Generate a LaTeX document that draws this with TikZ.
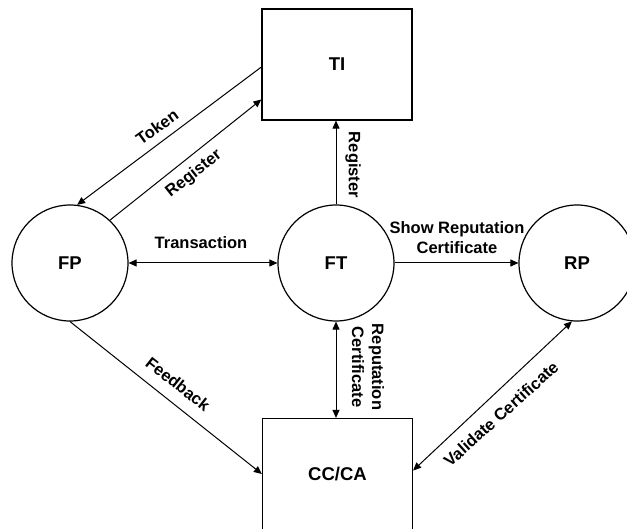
\documentclass[tikz,border=0pt]{standalone}
\usepackage{fontspec}
\setmainfont{Liberation Sans}
\usetikzlibrary{arrows.meta}
\begin{document}
\begin{tikzpicture}[x=1pt,y=-1pt,
  every node/.style={font=\bfseries\fontsize{16.5}{20}\selectfont},
  proc/.style={circle,draw,line width=1.2pt,minimum size=116pt,inner sep=0pt,font=\bfseries\fontsize{18.5}{22}\selectfont},
  store/.style={rectangle,draw,line width=1.2pt,minimum width=150pt,minimum height=111pt,inner sep=0pt,font=\bfseries\fontsize{18.5}{22}\selectfont},
  flow/.style={line width=1pt,-{Triangle[length=8pt,width=7pt]}},
  both/.style={line width=1pt,{Triangle[length=8pt,width=7pt]}-{Triangle[length=8pt,width=7pt]}},
  lbl/.style={inner sep=1pt}]
\useasboundingbox (0,0) rectangle (627,529);
\fill[white] (0,0) rectangle (627,529);
\begin{scope}
  \clip (0,0) rectangle (627,529);
  % entities
  \node[store] (TI) at (337,64.5) {TI};
  \node[store] (CC) at (337.5,474) {CC/CA};
  \node[proc] (FP) at (70,263) {FP};
  \node[proc] (FT) at (336,263) {FT};
  \node[proc] (RP) at (577,263) {RP};

  % flows
  \draw[flow] ([yshift=-2.5pt]TI.west) -- (FP.83);
  \draw[flow] (FP.47) -- ([yshift=-35pt]TI.west);
  \draw[both] (FP.east) -- (FT.west);
  \draw[flow] (FT.north) -- (TI.south -| FT.north);
  \draw[flow] (FT.east) -- (RP.west);
  \draw[both] (FT.south) -- (CC.north -| FT.south);
  \draw[flow] (FP.-90) -- (CC.west);
  \draw[both] (RP.-95) -- ([yshift=3.5pt]CC.east);
\end{scope}

% flow labels
\node[lbl,rotate=35.5] (tok) at (157,127) {Token};
\node[lbl,rotate=38.3] (reg1) at (194,174) {Register};
\node[lbl] (trans) at (201,243) {Transaction};
\node[lbl,rotate=-90] (reg2) at (353,165) {Register};
\node[lbl,align=center] (show) at (457,238) {Show Reputation\\Certificate};
\node[lbl,rotate=-90,align=center] (repc) at (368,367) {Reputation\\Certificate};
\node[lbl,rotate=-38.2] (fb) at (178,384) {Feedback};
\node[lbl,rotate=42] (val) at (501,414) {Validate Certificate};
\end{tikzpicture}
\end{document}
